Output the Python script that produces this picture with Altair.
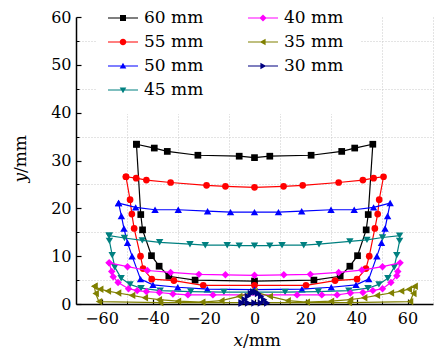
import altair as alt
import pandas as pd

# ---------------- data ----------------
series_names = ["60 mm", "55 mm", "50 mm", "45 mm", "40 mm", "35 mm", "30 mm"]
series_colors = ["#000000", "#ff0000", "#0000ff", "#008080", "#ff00ff", "#808000", "#000080"]
series_shapes = ["square", "circle", "triangle-up", "triangle-down", "diamond", "triangle-left", "triangle-right"]

x_60 = [-46.3, -39.3, -34.2, -22.2, -6.0, 0.0, 6.0, 22.2, 34.2, 39.3, 46.4,
        44.6, 43.8, 40.4, 37.4, 33.6, 23.3, 0.0, -23.3, -33.6, -37.4, -40.4, -43.9, -44.6]
y_60 = [33.4, 32.6, 31.9, 31.1, 30.9, 30.6, 30.9, 31.1, 31.9, 32.6, 33.4,
        18.7, 15.5, 10.1, 7.9, 5.8, 5.0, 4.8, 5.0, 5.8, 7.9, 10.1, 15.5, 18.7]

x_55 = [-50.4, -46.4, -42.4, -32.9, -18.8, -11.4, 0.0, 11.4, 18.9, 33.0, 42.5, 46.7, 50.6,
        48.9, 48.3, 47.2, 45.0, 43.7, 40.2, 31.6, 20.2, 0.0, -20.1, -31.6,
        -40.3, -43.7, -44.7, -47.2, -48.1, -48.8]
y_55 = [26.6, 26.3, 25.9, 25.4, 24.8, 24.6, 24.4, 24.6, 24.8, 25.4, 25.9, 26.3, 26.6,
        21.8, 18.8, 15.8, 10.0, 7.4, 5.2, 4.9, 3.9, 3.9, 3.9, 4.9,
        5.2, 7.4, 10.0, 15.8, 18.8, 21.8]

x_50 = [-53.3, -46.6, -39.0, -29.9, -18.4, -9.4, 0.0, 9.4, 18.5, 30.0, 39.1, 46.7, 53.2,
        52.2, 51.2, 49.8, 48.0, 44.8, 39.8, 30.1, 18.6, 0.0, -18.5, -30.1,
        -39.8, -44.7, -48.0, -49.8, -51.2, -52.2]
y_50 = [21.1, 20.2, 19.7, 19.7, 19.4, 19.2, 19.2, 19.2, 19.4, 19.7, 19.7, 20.2, 21.1,
        18.4, 15.8, 12.8, 10.0, 5.2, 4.0, 3.5, 3.1, 3.0, 3.1, 3.5,
        4.0, 5.2, 10.0, 12.8, 15.8, 18.4]

x_45 = [-57.0, -51.0, -44.0, -37.2, -25.3, -19.3, -10.7, -6.0, 0.0, 6.0, 10.8, 19.3, 25.3, 37.4, 44.1, 50.2, 56.9,
        56.9, 55.8, 54.8, 52.3, 48.8, 44.5, 37.0, 25.0, 12.0, 0.0, -12.0, -25.0,
        -37.0, -44.5, -48.8, -52.3, -54.8, -55.8, -56.9]
y_45 = [14.3, 13.8, 13.3, 12.9, 12.5, 12.3, 12.3, 12.2, 12.2, 12.2, 12.3, 12.3, 12.5, 13.1, 13.4, 13.9, 14.3,
        13.2, 10.2, 7.7, 5.4, 4.1, 3.3, 2.8, 2.6, 2.5, 2.5, 2.5, 2.6,
        2.8, 3.3, 4.1, 5.4, 7.7, 10.2, 13.2]

x_40 = [-57.0, -49.8, -42.0, -32.9, -21.8, -11.4, 0.0, 11.5, 21.9, 33.0, 42.1, 50.2, 57.1,
        56.2, 55.8, 53.5, 50.2, 46.4, 42.5, 37.6, 32.4, 26.4, 16.7,
        -16.3, -26.1, -32.0, -37.3, -42.4, -46.0, -49.4, -53.5, -55.4, -56.0]
y_40 = [8.6, 7.8, 7.0, 6.6, 6.2, 6.1, 6.0, 6.1, 6.2, 6.6, 7.1, 7.8, 8.6,
        6.8, 5.9, 4.5, 3.2, 2.8, 2.4, 2.3, 1.9, 1.9, 1.9,
        1.9, 1.9, 2.1, 2.4, 2.6, 2.8, 3.2, 4.5, 5.7, 6.8]

x_35 = [-62.8, -60.5, -57.5, -53.5, -48.0, -43.0, -37.5, -30.0, -20.5, -13.0, -6.0, 0.0,
        6.0, 13.0, 20.5, 30.0, 37.5, 43.0, 48.0, 53.5, 57.5, 60.5, 62.8,
        62.3, 61.0, 37.0, -37.0, -61.0, -62.3]
y_35 = [3.7, 3.1, 2.7, 2.3, 1.8, 1.3, 0.9, 0.6, 0.4, 0.7, 1.6, 2.6,
        1.6, 0.7, 0.4, 0.6, 0.9, 1.3, 1.8, 2.3, 2.7, 3.1, 3.7,
        2.2, 0.5, 0.3, 0.3, 0.5, 2.2]

x_30 = [-5.0, -3.8, -2.6, -1.4, -0.5, 0.5, 1.4, 2.6, 3.8, 5.0, 2.5, 0.0, -2.5]
y_30 = [0.2, 0.9, 1.6, 2.2, 2.5, 2.5, 2.2, 1.6, 0.9, 0.2, 0.2, 0.2, 0.2]

x_major = [-60, -40, -20, 0, 20, 40, 60]
x_minor = [-50, -30, -10, 10, 30, 50]
x_grid = [-50, -30, -10, 10, 30, 50, 70]
y_major = [0, 10, 20, 30, 40, 50, 60]
y_minor = [5, 15, 25, 35, 45, 55]

# legend order (Vega fills the two columns column by column)
legend_order = ["60 mm", "55 mm", "50 mm", "45 mm", "40 mm", "35 mm", "30 mm"]

# ---------------- table ----------------
xs_all = [x_60, x_55, x_50, x_45, x_40, x_35, x_30]
ys_all = [y_60, y_55, y_50, y_45, y_40, y_35, y_30]
rows = []
for name, xs, ys in zip(series_names, xs_all, ys_all):
    pts = list(zip(xs, ys)) + [(xs[0], ys[0])]
    for i, (a, b) in enumerate(pts):
        rows.append({"series": name, "x": a, "y": b, "order": i})
df = pd.DataFrame(rows)
one = pd.DataFrame({"a": [0]})

W, H = 357, 287
FONT = "DejaVu Serif"
FS = 17
TFS = 16

xscale = alt.Scale(domain=[-70, 70], nice=False, zero=False)
yscale = alt.Scale(domain=[0, 60], nice=False, zero=False)

color_of = dict(zip(series_names, series_colors))
shape_of = dict(zip(series_names, series_shapes))

# legend symbols: a short line with the marker on it
line_part = "M-1.5,-0.06H1.5V0.06H-1.5Z"
marker_paths = {
    "square": "M-0.3,-0.3H0.3V0.3H-0.3Z",
    "circle": "M-0.33,0A0.33,0.33 0 1,1 0.33,0A0.33,0.33 0 1,1 -0.33,0Z",
    "triangle-up": "M0,-0.33L0.33,0.26L-0.33,0.26Z",
    "triangle-down": "M-0.33,-0.26L0.33,-0.26L0,0.33Z",
    "diamond": "M0,-0.36L0.36,0L0,0.36L-0.36,0Z",
    "triangle-left": "M-0.33,0L0.26,-0.33L0.26,0.33Z",
    "triangle-right": "M0.33,0L-0.26,0.33L-0.26,-0.33Z",
}
legend_colors = [color_of[n] for n in legend_order]
legend_paths = [line_part + " " + marker_paths[shape_of[n]] for n in legend_order]


def ax(**kw):
    base = dict(title=None, grid=False, labels=False, domain=False, ticks=False)
    base.update(kw)
    return alt.Axis(**base)


empty = alt.Chart(df).transform_filter("false")

# grid (at the minor positions)
grid_layer = empty.mark_point().encode(
    x=alt.X("x:Q", scale=xscale, axis=ax(orient="bottom", values=x_grid, grid=True,
                                         gridColor="#c8c8c8", gridDash=[1, 2], gridWidth=1)),
    y=alt.Y("y:Q", scale=yscale, axis=ax(orient="left", values=y_minor, grid=True,
                                         gridColor="#c8c8c8", gridDash=[1, 2], gridWidth=1)),
)

# main axes: domain lines and labels
main_axes = empty.mark_point().encode(
    x=alt.X("x:Q", scale=xscale, axis=ax(orient="bottom", values=x_major, labels=True, domain=True,
                                         domainColor="black", domainWidth=1.5, labelFont=FONT,
                                         labelFontSize=TFS, labelColor="black", labelPadding=6,
                                         labelFlush=False, labelOverlap=False, tickSize=0)),
    y=alt.Y("y:Q", scale=yscale, axis=ax(orient="left", values=y_major, labels=True, domain=True,
                                         domainColor="black", domainWidth=1.5, labelFont=FONT,
                                         labelFontSize=TFS, labelColor="black", labelPadding=5,
                                         labelFlush=False, labelOverlap=False, tickSize=0)),
)

# inward major ticks
major_ticks = empty.mark_point().encode(
    x=alt.X("x:Q", scale=xscale, axis=ax(orient="top", offset=-H, values=x_major, ticks=True,
                                         tickSize=5, tickColor="black", tickWidth=1.2)),
    y=alt.Y("y:Q", scale=yscale, axis=ax(orient="right", offset=-W, values=y_major, ticks=True,
                                         tickSize=5, tickColor="black", tickWidth=1.2)),
)

leg = alt.Legend(orient="none", legendX=21, legendY=-25, columns=2, title=None,
                 labelFont=FONT, labelFontSize=FS, labelColor="black",
                 symbolSize=400, symbolStrokeWidth=0, symbolOffset=0, labelOffset=11,
                 rowPadding=6, columnPadding=44, padding=16, fillColor="white")

# inward minor ticks + legend
minor_ticks_legend = empty.mark_point(filled=True, size=400, opacity=1).encode(
    x=alt.X("x:Q", scale=xscale, axis=ax(orient="top", offset=-H, values=x_minor, ticks=True,
                                         tickSize=3, tickColor="black", tickWidth=1)),
    y=alt.Y("y:Q", scale=yscale, axis=ax(orient="right", offset=-W, values=y_minor, ticks=True,
                                         tickSize=3, tickColor="black", tickWidth=1)),
    color=alt.Color("series:N", scale=alt.Scale(domain=legend_order, range=legend_colors), legend=leg),
    shape=alt.Shape("series:N", scale=alt.Scale(domain=legend_order, range=legend_paths), legend=leg),
)

series_layers = []
for name in series_names:
    base = alt.Chart(df).transform_filter(alt.datum.series == name)
    ln = base.mark_line(color=color_of[name], strokeWidth=1.2).encode(
        x=alt.X("x:Q", scale=xscale, axis=None),
        y=alt.Y("y:Q", scale=yscale, axis=None),
        order="order:Q",
    )
    pt = base.mark_point(filled=True, shape=shape_of[name], size=45 if shape_of[name] in ("square", "circle") else 55,
                         color=color_of[name], opacity=1).encode(
        x=alt.X("x:Q", scale=xscale, axis=None),
        y=alt.Y("y:Q", scale=yscale, axis=None),
    )
    series_layers += [ln, pt]

# axis titles with italic variable letter
tx1 = alt.Chart(one).mark_text(text="x", font=FONT, fontSize=FS, fontStyle="italic", align="right",
                               baseline="alphabetic", color="black").encode(x=alt.value(167), y=alt.value(329))
tx2 = alt.Chart(one).mark_text(text="/mm", font=FONT, fontSize=FS, align="left",
                               baseline="alphabetic", color="black").encode(x=alt.value(167), y=alt.value(329))
ty1 = alt.Chart(one).mark_text(text="y", font=FONT, fontSize=FS, fontStyle="italic", align="right", angle=270,
                               baseline="alphabetic", color="black").encode(x=alt.value(-50), y=alt.value(156))
ty2 = alt.Chart(one).mark_text(text="/mm", font=FONT, fontSize=FS, align="left", angle=270,
                               baseline="alphabetic", color="black").encode(x=alt.value(-50), y=alt.value(156))

chart = alt.layer(
    minor_ticks_legend, grid_layer, main_axes, major_ticks, *series_layers, tx1, tx2, ty1, ty2
).resolve_axis(
    x="independent", y="independent"
).properties(
    width=W, height=H,
    padding={"left": 68, "top": 9, "right": 2, "bottom": 46},
    autosize=alt.AutoSizeParams(type="none"),
).configure_view(stroke=None)

chart.save("out.html", embed_options={"renderer": "svg", "actions": False})
